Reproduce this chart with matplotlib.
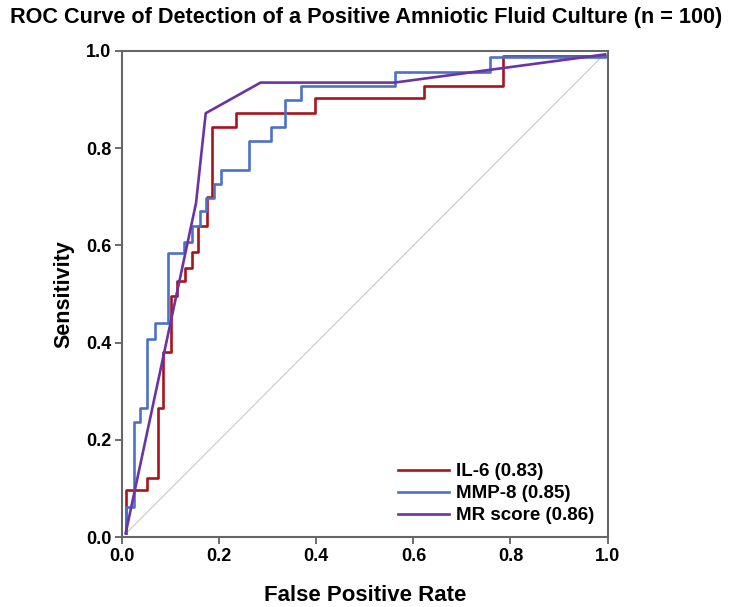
import matplotlib.pyplot as plt

plt.rcParams["font.family"] = ["Liberation Sans", "DejaVu Sans"]
plt.rcParams["font.weight"] = "bold"

# ROC corner points (fpr, sensitivity)
il6_fpr = [0.007, 0.052, 0.073, 0.083, 0.100, 0.113, 0.130, 0.143, 0.157,
           0.174, 0.185, 0.234, 0.398, 0.622, 0.785, 0.995]
il6_tpr = [0.008, 0.098, 0.121, 0.265, 0.381, 0.496, 0.527, 0.553, 0.586,
           0.640, 0.700, 0.843, 0.872, 0.903, 0.928, 0.990]

mmp8_fpr = [0.007, 0.025, 0.037, 0.050, 0.068, 0.095, 0.128, 0.143, 0.161,
            0.173, 0.190, 0.203, 0.262, 0.307, 0.336, 0.369, 0.561, 0.757, 0.995]
mmp8_tpr = [0.008, 0.062, 0.237, 0.266, 0.407, 0.440, 0.584, 0.608, 0.640,
            0.670, 0.697, 0.727, 0.755, 0.815, 0.843, 0.900, 0.928, 0.957, 0.988]

mr_fpr = [0.007, 0.152, 0.172, 0.285, 0.561, 0.995]
mr_tpr = [0.008, 0.687, 0.872, 0.935, 0.935, 0.993]

labels = ["IL-6 (0.83)", "MMP-8 (0.85)", "MR score (0.86)"]
colors = ["#A8141C", "#4A72C6", "#6B33A3"]

fig = plt.figure(figsize=(7.32, 6.07), dpi=100)
ax = fig.add_axes([0.167, 0.115, 0.663, 0.801])

ax.plot([0.007, 0.995], [0.007, 0.995], color="#c8c8c8", lw=0.8, zorder=1)
ax.plot(il6_fpr, il6_tpr, drawstyle="steps-pre", color=colors[0], lw=1.9, label=labels[0])
ax.plot(mmp8_fpr, mmp8_tpr, drawstyle="steps-pre", color=colors[1], lw=1.9, label=labels[1])
ax.plot(mr_fpr, mr_tpr, color=colors[2], lw=1.9, label=labels[2])

ax.set_xlim(0, 1)
ax.set_ylim(0, 1)
ticks = [0.0, 0.2, 0.4, 0.6, 0.8, 1.0]
ax.set_xticks(ticks)
ax.set_yticks(ticks)
ax.set_xticklabels([f"{t:.1f}" for t in ticks], fontsize=13, fontweight="bold")
ax.set_yticklabels([f"{t:.1f}" for t in ticks], fontsize=13, fontweight="bold")
ax.tick_params(direction="out", length=5, width=1.2, color="#555555", pad=3)
for s in ax.spines.values():
    s.set_color("#666666")
    s.set_linewidth(1.5)

ax.set_xlabel("False Positive Rate", fontsize=16, fontweight="bold", labelpad=14)
ax.set_ylabel("Sensitivity", fontsize=15.5, fontweight="bold", labelpad=8)
fig.suptitle("ROC Curve of Detection of a Positive Amniotic Fluid Culture (n = 100)",
             fontsize=15.6, fontweight="bold", y=0.988)

ax.legend(loc="lower right", frameon=False, fontsize=13.5, handlelength=2.7,
          handletextpad=0.4, labelspacing=0.25, borderaxespad=0.3)

fig.savefig("out.png", dpi=100)
